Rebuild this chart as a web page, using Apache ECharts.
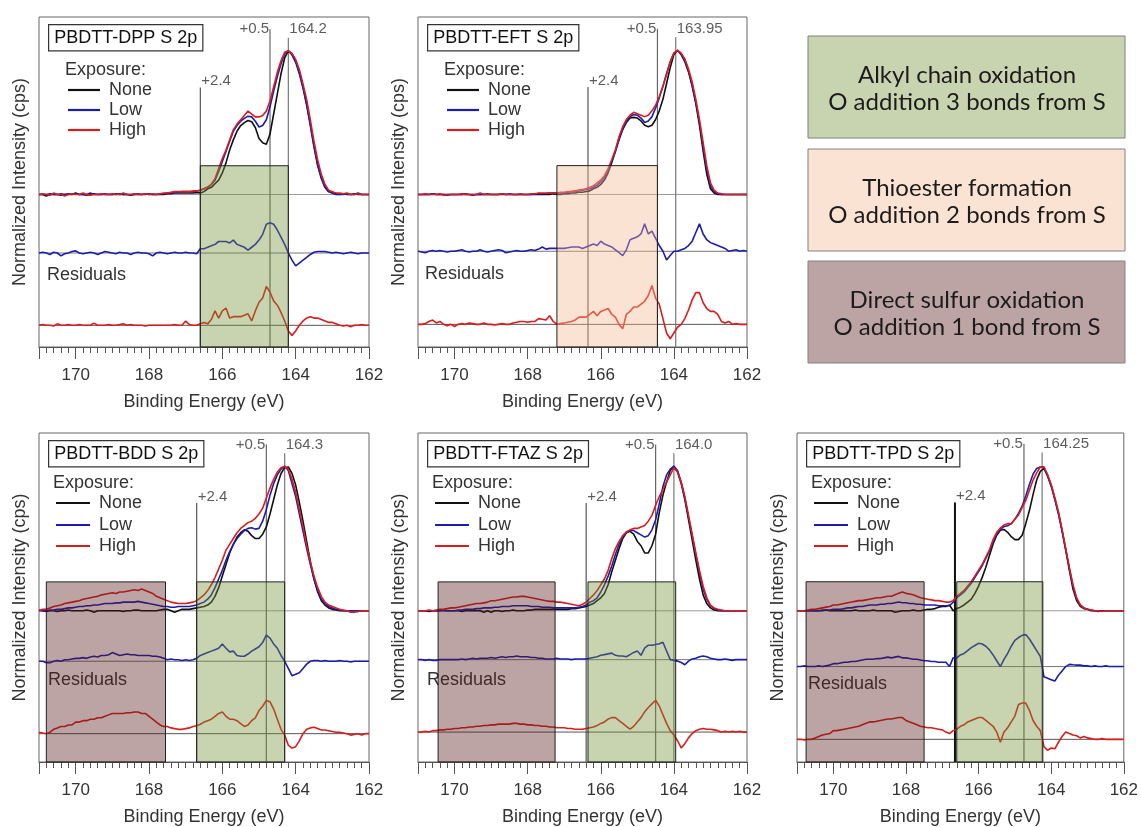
<!DOCTYPE html>
<html>
<head>
<meta charset="utf-8">
<script src="https://cdn.jsdelivr.net/npm/echarts@6/dist/echarts.min.js"></script>
<style>
  html, body { margin: 0; padding: 0; background: #fff; }
  #chart { width: 1141px; height: 827px; }
</style>
</head>
<body>
<div id="chart"></div>
<script>
// Binding-energy sampling grid: 171.0 eV down to 162.0 eV in 0.1 eV steps
const ENERGY = Array.from({ length: 91 }, (_, i) => Math.round((171 - i * 0.1) * 10) / 10);

// ---- PBDTT-DPP (normalized S 2p spectra and fit residuals) ----
const dppNone = [0,0,-0.01,0,0,0,-0.005,0,0.005,0, 0.01,0,0,-0.005,0,0.005,0,0,0,0, 0,0.005,0,0,0,-0.005,0,0,0,0.005, 0,0,0,0,0,0.005,0.005,0.01,0.01,0.01, 0.01,0.01,0.01,0.015,0.01,0.02,0.04,0.05,0.075,0.10, 0.15,0.22,0.31,0.38,0.44,0.48,0.50,0.515,0.506,0.466, 0.39,0.36,0.35,0.42,0.56,0.70,0.84,0.95,1.0,0.98, 0.93,0.85,0.75,0.63,0.49,0.34,0.21,0.12,0.05,0.02, 0.01,0,0,0.005,0,0,0.005,0,0,0, 0];
const dppLow = [0,0,0,0.005,0,0,0.005,0,0,0, 0.005,0,0,0,0.01,0,0,0,0.005,0, 0,0,0.005,0,0,0,0,0.005,0,0, 0.005,0,0,0.005,0.005,0.01,0.01,0.015,0.015,0.02, 0.02,0.02,0.02,0.025,0.03,0.04,0.05,0.07,0.10,0.16, 0.23,0.30,0.37,0.44,0.48,0.51,0.53,0.545,0.54,0.51, 0.47,0.48,0.52,0.61,0.72,0.82,0.91,0.98,1.0,0.97, 0.92,0.84,0.74,0.62,0.48,0.33,0.20,0.11,0.05,0.02, 0.01,0.005,0,0,0.005,0,0,0.01,0,0, 0];
const dppHigh = [0,0.005,0,-0.005,0.01,0,0,-0.01,0,0.005, 0,0,0.01,0,-0.005,0,0,0.005,0,0, 0.005,0,0,0.01,0,0,0.005,0,0,0.005, 0,0.005,0,0.005,0.01,0.01,0.015,0.02,0.02,0.02, 0.02,0.02,0.025,0.025,0.03,0.04,0.05,0.07,0.11,0.18, 0.25,0.31,0.38,0.45,0.49,0.52,0.55,0.58,0.56,0.54, 0.54,0.55,0.58,0.65,0.75,0.85,0.93,0.99,1.0,0.98, 0.94,0.87,0.77,0.66,0.52,0.37,0.24,0.14,0.07,0.03, 0.02,0.01,0.01,0.005,0.01,0,0,0.005,0,0, 0];
const dppLowRes = [0,0.005,0,-0.01,0.005,0,-0.02,-0.005,0,0.01, 0.015,0,-0.005,0,0.005,0,-0.01,0,0.01,0.005, 0,-0.005,0.005,0,0,-0.01,0,0.005,0,0, -0.005,-0.02,0,0.005,0,-0.005,0,0.005,0,0, 0.005,0,0,-0.005,0.03,0.03,0.04,0.05,0.06,0.08, 0.08,0.08,0.07,0.09,0.06,0.05,0.04,0.02,0.04,0.06, 0.09,0.13,0.20,0.21,0.20,0.16,0.11,0.06,0.0,-0.05, -0.09,-0.07,-0.05,-0.03,-0.01,0.005,0.01,0.01,0.01,0.005, 0,0.005,0,-0.005,0,0.005,0,-0.005,0,0, 0];
const dppHighRes = [0,0.005,0,0,-0.005,0.01,0,0,0.005,0, 0,0.005,0,0,0,0.015,0,0,0,0.005, 0,0,0.005,0.01,0,0.005,0,0,0,-0.005, 0,0,0,0,0,0,0,0.005,0,0, 0.03,0.005,0,0,0.01,0.02,0.01,0.04,0.10,0.05, 0.10,0.12,0.05,0.06,0.06,0.06,0.07,0.08,0.03,0.10, 0.16,0.19,0.27,0.23,0.17,0.14,0.09,0.03,-0.04,-0.07, -0.04,0.0,0.03,0.05,0.06,0.05,0.05,0.04,0.03,0.02, 0.02,0.01,0,-0.005,0,-0.01,0,0,0.005,0, 0];

// ---- PBDTT-EFT ----
const eftNone = [0,0,0,0,0.005,0,0,0,0,0, 0,0,0,0,0,-0.005,0,0,0,0, 0,0,0,0.005,0,0,0,0,0,0, 0,0,0,0,0,0,0,0.005,0,0, 0.005,0.005,0.01,0.01,0.015,0.015,0.02,0.025,0.04,0.05, 0.07,0.10,0.15,0.22,0.30,0.38,0.45,0.50,0.53,0.535, 0.53,0.51,0.48,0.47,0.48,0.52,0.58,0.66,0.77,0.88, 0.97,1.0,0.97,0.92,0.85,0.75,0.63,0.48,0.30,0.14, 0.04,0.01,0,0,0,0,0,0,0,0, 0];
const eftLow = [0,0,0,0,0.005,0,0,0,-0.005,0, 0,0,0,0.005,0,0,0,0,0,0.005, 0,0,0,0,0,0.005,0,0,0,0, 0,0,0.005,0.005,0.005,0.005,0.01,0.01,0.01,0.01, 0.01,0.015,0.02,0.02,0.025,0.03,0.035,0.04,0.05,0.065, 0.09,0.12,0.17,0.23,0.30,0.39,0.46,0.51,0.54,0.555, 0.55,0.53,0.50,0.51,0.54,0.60,0.67,0.75,0.84,0.92, 0.98,1.0,0.975,0.93,0.86,0.76,0.64,0.50,0.33,0.17, 0.06,0.02,0.005,0,0,0,0,0,0,0, 0];
const eftHigh = [0,0,0.005,0,0,0,0.005,-0.005,0,0, 0,0,0.005,0,0,0,0,0.01,0,0, 0,0,0,0.005,0,0,0,0,0.005,0, 0,0.005,0.005,0.01,0.01,0.01,0.01,0.01,0.01,0.015, 0.015,0.02,0.02,0.025,0.03,0.035,0.04,0.05,0.06,0.08, 0.10,0.13,0.18,0.24,0.31,0.40,0.47,0.52,0.55,0.57, 0.56,0.55,0.54,0.55,0.58,0.62,0.68,0.75,0.83,0.92, 0.98,1.0,0.98,0.94,0.87,0.78,0.66,0.52,0.36,0.20, 0.08,0.03,0.01,0.005,0,0,0,0,0,0, 0];
const eftLowRes = [0,-0.005,-0.01,0,0.005,0,0.005,0,-0.005,0, 0,0.005,0.01,0,-0.005,0,0,0.01,0,-0.005, 0,0.005,0.01,0.005,-0.01,-0.005,0,0.005,0,0, 0.005,0.01,0.005,0.015,0.03,0.015,0.02,0.02,0.02,0.02, 0.02,0.025,0.03,0.03,0.03,0.02,0.03,0.04,0.05,0.04, 0.07,0.05,0.04,0.03,0.01,-0.01,-0.03,0.01,0.08,0.09, 0.10,0.12,0.19,0.12,0.14,0.09,0.04,0.0,-0.06,-0.03, 0.0,0.0,0.01,0.02,0.04,0.07,0.13,0.19,0.12,0.08, 0.06,0.05,0.04,0.03,0.02,0.0,0.005,0.01,0.0,0.005, 0];
const eftHighRes = [0,0,0.005,0.02,0.03,0.01,0.02,0.0,-0.01,0.0, -0.015,0.0,0.005,0.0,0.01,0.005,0.0,0.0,0.01,0.0, 0.0,-0.005,0.0,0.005,0.0,0.0,0.01,0.015,0.02,0.02, 0.015,0.02,0.02,0.04,0.035,0.03,0.06,0.02,0.0,0.005, 0.01,0.015,0.02,0.03,0.05,0.05,0.05,0.07,0.09,0.06, 0.09,0.10,0.11,0.07,0.05,0.0,-0.03,0.07,0.09,0.12, 0.12,0.14,0.16,0.20,0.27,0.18,0.14,0.04,-0.06,-0.10, -0.06,-0.02,0.0,0.04,0.10,0.17,0.22,0.22,0.15,0.11, 0.09,0.09,0.07,0.02,0.01,0.02,0.0,0.005,0.0,0.0, 0];

// ---- PBDTT-BDD ----
const bddNone = [0.005,0,-0.005,0,0,-0.005,0,0,0.005,0, 0,0,0,0.005,0,-0.01,0,0,0,0, 0,0,0,-0.005,0,0,0.005,0.005,0,0, 0,0,0,0.005,0.01,0.01,0,-0.01,0.0,0.01, 0.01,0.01,0.015,0.02,0.025,0.03,0.04,0.06,0.10,0.16, 0.24,0.32,0.40,0.46,0.51,0.54,0.56,0.55,0.52,0.50, 0.50,0.53,0.58,0.67,0.77,0.87,0.95,0.99,0.995,0.95, 0.87,0.75,0.62,0.48,0.34,0.22,0.13,0.07,0.04,0.02, 0.01,0.005,0,0,0,0,0,-0.005,0,0, 0];
const bddLow = [0,0,0,0.005,0.005,0.01,0.01,0.015,0.02,0.02, 0.025,0.03,0.03,0.035,0.035,0.04,0.04,0.045,0.05,0.05, 0.05,0.055,0.055,0.06,0.06,0.06,0.06,0.065,0.06,0.055, 0.05,0.045,0.04,0.035,0.03,0.03,0.025,0.025,0.03,0.03, 0.03,0.03,0.035,0.04,0.05,0.06,0.08,0.11,0.16,0.22, 0.28,0.35,0.41,0.46,0.50,0.53,0.555,0.57,0.575,0.565, 0.57,0.62,0.70,0.80,0.88,0.94,0.98,1.0,0.97,0.88, 0.79,0.67,0.55,0.43,0.32,0.22,0.14,0.08,0.05,0.03, 0.02,0.01,0.005,0,0,0,0,0,0,0, 0];
const bddHigh = [0.0,0.01,0.01,0.02,0.03,0.035,0.04,0.05,0.055,0.06, 0.065,0.07,0.08,0.085,0.09,0.095,0.10,0.11,0.115,0.12, 0.125,0.12,0.13,0.13,0.135,0.14,0.145,0.14,0.15,0.14, 0.13,0.12,0.10,0.09,0.08,0.07,0.06,0.055,0.05,0.05, 0.05,0.055,0.06,0.07,0.09,0.11,0.14,0.18,0.23,0.29, 0.35,0.42,0.46,0.50,0.54,0.57,0.59,0.61,0.62,0.64, 0.67,0.71,0.78,0.85,0.91,0.96,0.99,1.0,0.98,0.91, 0.82,0.70,0.58,0.45,0.34,0.24,0.16,0.10,0.06,0.04, 0.03,0.02,0.01,0.005,0,-0.01,-0.01,-0.005,0,0, 0];
const bddLowRes = [0.0,0.0,-0.01,-0.01,0.0,0.005,0.0,0.01,0.01,0.015, 0.02,0.02,0.025,0.02,0.03,0.035,0.03,0.04,0.04,0.045, 0.06,0.05,0.04,0.045,0.05,0.045,0.045,0.04,0.04,0.04, 0.04,0.035,0.035,0.03,0.02,0.01,0.015,0.01,0.01,0.005, 0.01,0.005,0.01,0.02,0.04,0.05,0.06,0.07,0.08,0.09, 0.12,0.09,0.065,0.07,0.04,0.035,0.035,0.05,0.07,0.085, 0.10,0.13,0.18,0.16,0.12,0.09,0.04,0.0,-0.05,-0.10, -0.09,-0.08,-0.05,-0.02,0.0,0.005,0.005,0.0,0.005,0.0, 0.0,0.0,0.005,0.0,0.0,-0.005,0.0,0.0,0.0,0.0, 0];
const bddHighRes = [0.01,0.005,0.0,0.01,0.03,0.04,0.05,0.05,0.06,0.06, 0.08,0.08,0.09,0.09,0.10,0.10,0.11,0.11,0.12,0.13, 0.14,0.14,0.14,0.14,0.145,0.145,0.15,0.15,0.14,0.14, 0.12,0.10,0.08,0.06,0.05,0.05,0.04,0.035,0.03,0.03, 0.035,0.04,0.05,0.055,0.065,0.08,0.09,0.10,0.12,0.14, 0.15,0.12,0.10,0.10,0.09,0.07,0.05,0.06,0.09,0.11, 0.16,0.19,0.23,0.22,0.17,0.10,0.03,-0.01,-0.08,-0.10, -0.09,-0.05,0.0,0.03,0.04,0.045,0.035,0.025,0.025,0.02, 0.015,0.01,0.01,0.005,0.0,-0.01,-0.005,0.0,-0.01,0.0, 0];

// ---- PBDTT-FTAZ ----
const ftazNone = [0,0,0,-0.005,0,0,0,0,0,0, 0,0,-0.005,0,0,0,0,0,-0.01,0, -0.01,0,0,-0.005,0,0,0.005,0,0,0, 0.005,0.005,0.01,0.01,0.01,0.01,0.01,0.01,0.01,0.01, 0.01,0.01,0.015,0.015,0.02,0.025,0.03,0.04,0.05,0.07, 0.09,0.12,0.18,0.27,0.35,0.43,0.50,0.54,0.55,0.53, 0.48,0.45,0.40,0.40,0.45,0.53,0.68,0.80,0.89,0.97, 1.0,0.96,0.88,0.77,0.63,0.49,0.35,0.22,0.11,0.05, 0.02,0.005,0,0,0,0,0,0,0,0, 0];
const ftazLow = [0,0,0,0,0,0,0,0.005,0,0, 0,0.005,0.005,0.01,0.01,0.01,0.015,0.015,0.02,0.02, 0.02,0.025,0.025,0.03,0.03,0.03,0.035,0.035,0.035,0.035, 0.035,0.03,0.03,0.03,0.025,0.025,0.025,0.02,0.02,0.02, 0.02,0.02,0.02,0.02,0.025,0.03,0.04,0.06,0.07,0.09, 0.13,0.18,0.24,0.31,0.39,0.46,0.51,0.545,0.555,0.555, 0.54,0.525,0.51,0.52,0.56,0.63,0.74,0.86,0.94,0.98, 1.0,0.97,0.89,0.78,0.65,0.52,0.39,0.26,0.15,0.08, 0.035,0.015,0.005,0,0,0,0,0,0,0, 0];
const ftazHigh = [0,0,0,0.005,0,0.005,0.01,0.01,0.015,0.02, 0.02,0.025,0.03,0.035,0.04,0.045,0.05,0.05,0.055,0.06, 0.07,0.07,0.075,0.08,0.085,0.09,0.095,0.095,0.10,0.10, 0.095,0.09,0.085,0.08,0.075,0.07,0.065,0.065,0.06,0.06, 0.055,0.05,0.045,0.04,0.035,0.045,0.06,0.085,0.11,0.14, 0.18,0.22,0.28,0.36,0.43,0.48,0.52,0.545,0.56,0.57, 0.57,0.58,0.59,0.62,0.66,0.73,0.79,0.84,0.89,0.94, 0.99,0.96,0.89,0.79,0.66,0.53,0.40,0.28,0.17,0.09, 0.04,0.02,0.01,0.005,0,0,0,0,0,0, 0];
const ftazLowRes = [0,0,-0.005,0,-0.005,-0.005,0,0,0,0, 0,0,0.005,0.0,0.005,0.01,0.005,0.01,0.01,0.01, 0.015,0.01,0.015,0.02,0.015,0.02,0.02,0.025,0.02,0.02, 0.02,0.015,0.015,0.01,0.01,0.005,0.005,0.005,0.01,0.005, 0.005,0.005,0.0,0.005,0.005,0.005,0.005,0.01,0.015,0.02, 0.03,0.035,0.04,0.045,0.03,0.025,0.025,0.02,0.035,0.05, 0.06,0.03,0.08,0.10,0.10,0.105,0.11,0.12,0.06,0.0, -0.005,-0.01,-0.02,-0.035,-0.01,0.005,0.01,0.02,0.025,0.02, 0.01,0.005,0.0,0.0,0.005,0.0,-0.005,0.0,0.0,0.0, 0];
const ftazHighRes = [0.0,0.0,0.005,0.0,0.01,0.01,0.015,0.015,0.02,0.02, 0.025,0.025,0.03,0.03,0.035,0.035,0.04,0.04,0.045,0.045, 0.05,0.05,0.055,0.055,0.055,0.055,0.06,0.06,0.055,0.055, 0.05,0.05,0.045,0.045,0.04,0.04,0.035,0.035,0.03,0.03, 0.03,0.025,0.025,0.02,0.02,0.02,0.025,0.03,0.035,0.045, 0.06,0.07,0.09,0.10,0.10,0.08,0.06,0.04,0.02,0.04, 0.07,0.10,0.14,0.17,0.195,0.22,0.18,0.12,0.06,0.01, -0.02,-0.06,-0.11,-0.08,-0.04,-0.01,0.01,0.02,0.025,0.02, 0.02,0.015,0.01,0.0,0.005,0.0,0.005,0.0,0.005,0.0, 0];

// ---- PBDTT-TPD ----
const tpdNone = [0,0,0,0,0,0,0,0,0.005,0, 0,0,0,0,0,0,0.005,0,0,0, 0,0.005,0,0,0,0,0,-0.01,-0.005,0, 0,0,0.005,0,0,0.005,0.01,0.01,0.015,0.025, 0.03,0.03,0.04,0.0,0.015,0.025,0.04,0.06,0.08,0.12, 0.17,0.23,0.30,0.38,0.46,0.52,0.555,0.56,0.54,0.51, 0.49,0.49,0.52,0.60,0.69,0.80,0.90,0.96,0.98,0.93, 0.86,0.77,0.67,0.55,0.42,0.28,0.15,0.07,0.03,0.015, 0.01,0,0,0,0,0,0,0,0,0, 0];
const tpdLow = [0,0,0,0,0,0,0,0.005,0.005,0.005, 0.01,0.01,0.01,0.015,0.02,0.02,0.025,0.03,0.03,0.035, 0.04,0.04,0.04,0.045,0.045,0.05,0.05,0.055,0.06,0.055, 0.055,0.05,0.05,0.045,0.045,0.04,0.04,0.04,0.04,0.035, 0.035,0.035,0.035,0.06,0.09,0.11,0.13,0.16,0.19,0.23, 0.27,0.31,0.36,0.41,0.47,0.53,0.56,0.58,0.585,0.60, 0.63,0.67,0.72,0.79,0.87,0.94,0.98,0.99,0.99,0.93, 0.86,0.77,0.67,0.55,0.42,0.29,0.17,0.08,0.04,0.02, 0.01,0.005,0,-0.005,0,0,0,0,0,0, 0];
const tpdHigh = [0,0,0,0.005,0.01,0.01,0.015,0.02,0.025,0.03, 0.04,0.04,0.045,0.05,0.055,0.06,0.065,0.07,0.07,0.075, 0.08,0.085,0.09,0.09,0.095,0.10,0.10,0.11,0.12,0.13, 0.12,0.115,0.11,0.10,0.09,0.085,0.08,0.075,0.07,0.07, 0.065,0.06,0.06,0.07,0.10,0.12,0.14,0.17,0.20,0.24, 0.28,0.32,0.37,0.42,0.49,0.54,0.57,0.59,0.60,0.60, 0.63,0.66,0.71,0.76,0.83,0.90,0.95,0.99,0.99,0.94, 0.87,0.78,0.68,0.56,0.43,0.30,0.18,0.09,0.04,0.02, 0.01,0.005,0,0,-0.005,0,0,0,0,0, 0];
const tpdLowRes = [0,0,0.005,0,0,0,0.005,0,0.005,0.01, 0.02,0.02,0.025,0.03,0.03,0.035,0.035,0.04,0.045,0.05, 0.05,0.05,0.055,0.055,0.06,0.065,0.06,0.065,0.07,0.06, 0.06,0.055,0.05,0.05,0.045,0.04,0.04,0.035,0.035,0.03, 0.03,0.03,0.0,0.06,0.06,0.08,0.09,0.11,0.13,0.145, 0.16,0.155,0.14,0.115,0.08,0.04,0.0,0.05,0.09,0.14, 0.18,0.20,0.215,0.22,0.19,0.15,0.11,0.07,-0.07,-0.08, -0.09,-0.10,-0.06,-0.03,0.0,0.015,0.012,0.01,0.01,0.005, 0.005,0.0,0.005,0.0,0.0,0.005,0.0,0.0,0.0,0.0, 0];
const tpdHighRes = [0,0,-0.005,0,0,0.01,0.02,0.03,0.035,0.04, 0.06,0.06,0.065,0.07,0.075,0.08,0.085,0.09,0.10,0.11, 0.12,0.12,0.125,0.13,0.135,0.14,0.14,0.145,0.15,0.15, 0.13,0.12,0.11,0.10,0.09,0.085,0.08,0.08,0.075,0.07, 0.065,0.05,0.04,0.06,0.07,0.09,0.10,0.12,0.13,0.14, 0.15,0.15,0.13,0.11,0.09,0.05,-0.02,0.05,0.08,0.12, 0.16,0.24,0.25,0.25,0.20,0.13,0.09,0.06,-0.05,-0.075, -0.06,-0.065,-0.02,0.02,0.05,0.04,0.03,0.025,0.01,0.02, 0.01,0.005,0.0,0.0,0.005,0.0,0.0,0.0,0.0,0.0, 0];

// Panel titles, main-peak positions and their labels
const TITLES = ['PBDTT-DPP S 2p', 'PBDTT-EFT S 2p', 'PBDTT-BDD S 2p', 'PBDTT-FTAZ S 2p', 'PBDTT-TPD S 2p'];
const PEAKS = [164.2, 163.95, 164.3, 164.0, 164.25];
const PEAK_LABELS = ['164.2', '163.95', '164.3', '164.0', '164.25'];
const SHIFTS = [0.5, 2.4];
const SHIFT_LABELS = ['+0.5', '+2.4'];
// Vertical offsets at which the residual traces are stacked
const LOW_RES_OFFSET = [-0.407, -0.394, -0.349, -0.338, -0.384];
const HIGH_RES_OFFSET = [-0.910, -0.901, -0.850, -0.839, -0.885];
// Shaded binding-energy windows [from, to, kind]
const WINDOWS = [
  [[166.6, 164.2, 'alkyl']],
  [[167.2, 164.45, 'thio']],
  [[170.8, 167.55, 'sulfur'], [166.7, 164.3, 'alkyl']],
  [[170.45, 167.25, 'sulfur'], [166.35, 163.95, 'alkyl']],
  [[170.75, 167.5, 'sulfur'], [166.6, 164.23, 'alkyl']]
];
const WINDOW_LABELS = {
  alkyl: 'Alkyl chain oxidation\nO addition 3 bonds from S',
  thio: 'Thioester formation\nO addition 2 bonds from S',
  sulfur: 'Direct sulfur oxidation\nO addition 1 bond from S'
};

const SPECTRA = [
  [dppNone, dppLow, dppHigh, dppLowRes, dppHighRes],
  [eftNone, eftLow, eftHigh, eftLowRes, eftHighRes],
  [bddNone, bddLow, bddHigh, bddLowRes, bddHighRes],
  [ftazNone, ftazLow, ftazHigh, ftazLowRes, ftazHighRes],
  [tpdNone, tpdLow, tpdHigh, tpdLowRes, tpdHighRes]
];

// ---- layout & style ----
const FONT = '"Liberation Sans", Arial, sans-serif';
const TEXT = '#333';
const C_NONE = '#111111', C_LOW = '#1c1cb0', C_HIGH = '#da1c1c';
const WINDOW_FILL = {           // translucent so the traces show through, tinted
  alkyl: 'rgba(118,145,58,0.4)',
  thio: 'rgba(245,185,145,0.4)',
  sulfur: 'rgba(88,28,28,0.4)'
};
const KEY_FILL = { alkyl: '#c8d3b0', thio: '#fbe3d3', sulfur: '#bca4a4' };
const GRIDS = [
  { left: 39, top: 17, width: 330, height: 330 },
  { left: 418, top: 17, width: 329, height: 330 },
  { left: 39, top: 433, width: 330, height: 330 },
  { left: 418, top: 433, width: 329, height: 330 },
  { left: 797, top: 433, width: 329, height: 330 }
];
const Y_MIN = [-1.061, -1.058, -1.046, -1.046, -1.041];
const Y_MAX = [1.235, 1.231, 1.230, 1.230, 1.224];
const WINDOW_TOP = 0.2;

const grid = [], xAxis = [], yAxis = [], series = [], graphic = [];

function pairs(vals, off) { return vals.map((v, i) => [ENERGY[i], v + off]); }
function plain(data, color, width, z, xi, yi) {
  return { type: 'line', xAxisIndex: xi, yAxisIndex: yi, data, symbol: 'none', silent: true,
    animation: false, z, lineStyle: { color, width } };
}

GRIDS.forEach((g, p) => {
  grid.push({ left: g.left, top: g.top, width: g.width, height: g.height, show: true,
    borderColor: '#666', borderWidth: 1, backgroundColor: 'transparent' });
  const xi = 2 * p, yi = p;
  // major ticks + labels
  xAxis.push({ type: 'value', gridIndex: p, min: 162, max: 171, interval: 2, inverse: true, position: 'bottom',
    name: 'Binding Energy (eV)', nameLocation: 'middle', nameGap: 46,
    nameTextStyle: { fontFamily: FONT, fontSize: 18, color: TEXT },
    axisLine: { show: true, onZero: false, lineStyle: { color: '#555', width: 1 } },
    axisTick: { show: true, length: 12, lineStyle: { color: '#555', width: 1 } },
    axisLabel: { margin: 20, fontFamily: FONT, fontSize: 17, color: TEXT,
      formatter: v => (Math.abs(v % 2) < 1e-6 ? String(v) : '') },
    splitLine: { show: false } });
  // minor ticks every 0.2 eV
  xAxis.push({ type: 'value', gridIndex: p, min: 162, max: 171, interval: 0.2, inverse: true, position: 'bottom',
    axisLine: { show: false, onZero: false }, axisTick: { show: true, length: 6, lineStyle: { color: '#555', width: 1 } },
    axisLabel: { show: false }, splitLine: { show: false } });
  yAxis.push({ type: 'value', gridIndex: p, min: Y_MIN[p], max: Y_MAX[p],
    name: 'Normalized Intensity (cps)', nameLocation: 'middle', nameGap: 10,
    nameTextStyle: { fontFamily: FONT, fontSize: 18, color: TEXT },
    axisLine: { show: false, onZero: false }, axisTick: { show: false }, axisLabel: { show: false }, splitLine: { show: false } });

  const [none, low, high, lowRes, highRes] = SPECTRA[p];
  const lo = LOW_RES_OFFSET[p], hi = HIGH_RES_OFFSET[p];

  // reference baselines
  series.push(plain([[171, 0], [162, 0]], '#9a9a9a', 1, 1, xi, yi));
  series.push(plain([[171, lo], [162, lo]], '#777', 1, 1, xi, yi));
  series.push(plain([[171, hi], [162, hi]], '#555', 1, 1, xi, yi));

  // marker lines: main peak, +0.5 and +2.4 eV
  const peak = PEAKS[p];
  series.push(plain([[peak, Y_MIN[p]], [peak, 1.09]], '#777', 1.2, 1, xi, yi));
  series.push(plain([[peak + SHIFTS[0], Y_MIN[p]], [peak + SHIFTS[0], 1.15]], '#666', 1.2, 1, xi, yi));
  series.push(plain([[peak + SHIFTS[1], Y_MIN[p]], [peak + SHIFTS[1], 0.745]], p === 4 ? '#111' : '#555',
    p === 4 ? 2 : 1.2, 1, xi, yi));

  // spectra and residuals
  const specs = [[none, 0, C_NONE, 'None'], [low, 0, C_LOW, 'Low'], [high, 0, C_HIGH, 'High'],
                 [lowRes, lo, C_LOW, 'Low residual'], [highRes, hi, C_HIGH, 'High residual']];
  specs.forEach(([vals, off, color, name]) => {
    const s = plain(pairs(vals, off), color, 1.6, 2, xi, yi);
    s.name = name;
    series.push(s);
  });

  // shaded windows, drawn over the traces
  const wins = WINDOWS[p];
  const yMin = Y_MIN[p];
  series.push({ type: 'custom', xAxisIndex: xi, yAxisIndex: yi, z: 5, silent: true, animation: false,
    data: wins.map(w => [w[0], w[1]]),
    encode: { x: [0, 1] },
    renderItem: (params, api) => {
      const w = wins[params.dataIndex];
      const a = api.coord([w[0], WINDOW_TOP]);
      const b = api.coord([w[1], yMin]);
      return { type: 'rect', shape: { x: a[0], y: a[1], width: b[0] - a[0], height: b[1] - a[1] },
        style: { fill: WINDOW_FILL[w[2]], stroke: '#222', lineWidth: 1 } };
    } });

  // labels of the marker lines
  const lab = (x, y, text, pos) => ({ value: [x, y],
    label: { show: true, formatter: text, position: pos, distance: 1, fontFamily: FONT, fontSize: 15, color: TEXT } });
  series.push({ type: 'scatter', xAxisIndex: xi, yAxisIndex: yi, symbolSize: 0, silent: true, animation: false, z: 6,
    data: [lab(peak, 1.15, PEAK_LABELS[p], 'right'),
           lab(peak + SHIFTS[0], 1.15, SHIFT_LABELS[0], 'left'),
           lab(peak + SHIFTS[1], 0.79, SHIFT_LABELS[1], 'right')] });

  // panel title box
  graphic.push({ type: 'text', left: g.left + 9, top: g.top + 7, z: 10,
    style: { text: TITLES[p], font: '18px ' + FONT, fill: '#111', backgroundColor: '#fff',
      borderColor: '#333', borderWidth: 1.2, padding: [4, 5, 3, 5] } });

  // exposure key
  const top = p < 2;
  const tx = top ? 26 : 14, l1 = top ? 29 : 17, l2 = top ? 61 : 51, lx = top ? 70 : 60;
  const ys = top ? [53, 73, 93, 113] : [50, 70, 92, 113];
  graphic.push({ type: 'text', x: g.left + tx, y: g.top + ys[0], z: 10,
    style: { text: 'Exposure:', font: '18px ' + FONT, fill: TEXT, textVerticalAlign: 'middle' } });
  [['None', C_NONE], ['Low', C_LOW], ['High', C_HIGH]].forEach(([t, c], k) => {
    graphic.push({ type: 'line', z: 10, shape: { x1: g.left + l1, y1: g.top + ys[k + 1], x2: g.left + l2, y2: g.top + ys[k + 1] },
      style: { stroke: c, lineWidth: 2.2 } });
    graphic.push({ type: 'text', x: g.left + lx, y: g.top + ys[k + 1], z: 10,
      style: { text: t, font: '18px ' + FONT, fill: TEXT, textVerticalAlign: 'middle' } });
  });

  // residual caption (sits under the shaded windows)
  const rpos = [[8, 258], [7, 257], [9, 247], [9, 247], [11, 251]][p];
  graphic.push({ type: 'text', x: g.left + rpos[0], y: g.top + rpos[1], z: 0,
    style: { text: 'Residuals', font: '18px ' + FONT, fill: TEXT, textVerticalAlign: 'middle' } });
});

// colour key for the shaded windows
['alkyl', 'thio', 'sulfur'].forEach((kind, k) => {
  const y0 = [36, 149, 261][k];
  graphic.push({ type: 'rect', z: 10, shape: { x: 808, y: y0, width: 317, height: 102 },
    style: { fill: KEY_FILL[kind], stroke: '#808080', lineWidth: 1 } });
  graphic.push({ type: 'text', z: 11, x: 967, y: y0 + 53,
    style: { text: WINDOW_LABELS[kind], font: '24px Lato, "Open Sans", sans-serif', fill: '#1c1c1c',
      textAlign: 'center', textVerticalAlign: 'middle', lineHeight: 27 } });
});

const chart = echarts.init(document.getElementById('chart'), null, { renderer: 'canvas' });
chart.setOption({ animation: false, grid, xAxis, yAxis, series, graphic });
</script>
</body>
</html>
